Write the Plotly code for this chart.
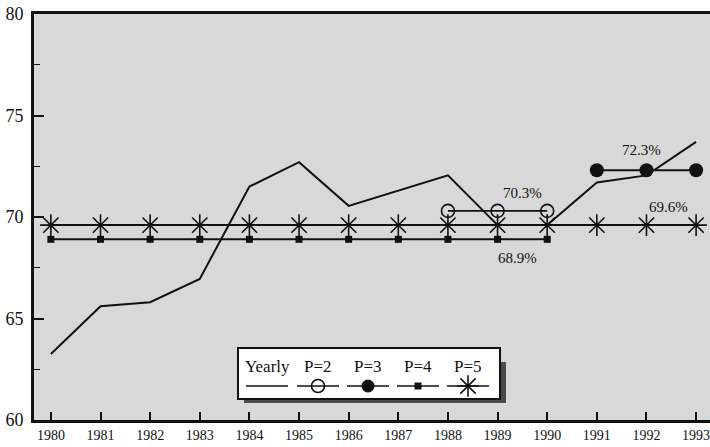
import plotly.graph_objects as go

# ---- data ----
years = [1980, 1981, 1982, 1983, 1984, 1985, 1986, 1987, 1988, 1989, 1990, 1991, 1992, 1993]
yearly = [63.25, 65.6, 65.8, 66.95, 71.5, 72.7, 70.55, 71.3, 72.05, 69.6, 69.6, 71.7, 72.05, 73.7]

p2_years = [1988, 1989, 1990]
p2_vals = [70.3, 70.3, 70.3]

p3_years = [1991, 1992, 1993]
p3_vals = [72.3, 72.3, 72.3]

p4_years = [1980, 1981, 1982, 1983, 1984, 1985, 1986, 1987, 1988, 1989, 1990]
p4_vals = [68.9, 68.9, 68.9, 68.9, 68.9, 68.9, 68.9, 68.9, 68.9, 68.9, 68.9]

p5_years = years
p5_vals = [69.6, 69.6, 69.6, 69.6, 69.6, 69.6, 69.6, 69.6, 69.6, 69.6, 69.6, 69.6, 69.6, 69.6]

labels = ["70.3%", "68.9%", "72.3%", "69.6%"]
label_x = [1989.5, 1989.4, 1991.9, 1992.45]
label_y = [71.2, 68.0, 73.3, 70.5]

legend_names = ["Yearly", "P=2", "P=3", "P=4", "P=5"]

FONT = "Liberation Serif"
BLACK = "#111111"

fig = go.Figure()

fig.add_trace(go.Scatter(x=years, y=yearly, mode="lines",
                         line=dict(color=BLACK, width=2), name="Yearly"))
fig.add_trace(go.Scatter(x=p5_years, y=p5_vals, mode="lines+markers",
                         line=dict(color=BLACK, width=2),
                         marker=dict(symbol="asterisk-open", size=18, color=BLACK,
                                     line=dict(color=BLACK, width=1.6)),
                         name="P=5"))
fig.add_trace(go.Scatter(x=p4_years, y=p4_vals, mode="lines+markers",
                         line=dict(color=BLACK, width=2),
                         marker=dict(symbol="square", size=7, color=BLACK),
                         name="P=4"))
fig.add_trace(go.Scatter(x=p2_years, y=p2_vals, mode="lines+markers",
                         line=dict(color=BLACK, width=1.6),
                         marker=dict(symbol="circle-open", size=13, color=BLACK,
                                     line=dict(color=BLACK, width=1.6)),
                         name="P=2"))
fig.add_trace(go.Scatter(x=p3_years, y=p3_vals, mode="lines+markers",
                         line=dict(color=BLACK, width=2),
                         marker=dict(symbol="circle", size=14, color=BLACK),
                         name="P=3"))

for t, xv, yv in zip(labels, label_x, label_y):
    fig.add_annotation(x=xv, y=yv, text=t, showarrow=False,
                       xanchor="center", yanchor="middle",
                       font=dict(family=FONT, size=15, color=BLACK))

# ---- custom legend (pixel overlay axes) ----
W, H = 710, 447
L, R, T, B = 34, 0, 14, 27
def px2paper_x(px):
    return (px - L) / (W - L - R)
def px2paper_y(py):
    return (H - B - py) / (H - T - B)

box = (238, 348, 500, 399)
sh = 6
fig.add_shape(type="rect", xref="paper", yref="paper", layer="below",
              x0=px2paper_x(box[0] + sh), x1=px2paper_x(box[2] + sh),
              y0=px2paper_y(box[3] + sh - 2), y1=px2paper_y(box[1] + sh + 8),
              fillcolor="#4a4a4a", line=dict(width=0))
fig.add_shape(type="rect", xref="paper", yref="paper", layer="below",
              x0=px2paper_x(box[0]), x1=px2paper_x(box[2]),
              y0=px2paper_y(box[3]), y1=px2paper_y(box[1]),
              fillcolor="white", line=dict(color=BLACK, width=2))

centers = [267, 318, 368, 418, 468]
text_y = 366
sample_y = 386
half = 21
for name, cx in zip(legend_names, centers):
    fig.add_annotation(xref="paper", yref="paper", x=px2paper_x(cx), y=px2paper_y(text_y),
                       text=name, showarrow=False, xanchor="center", yanchor="middle",
                       font=dict(family=FONT, size=17, color=BLACK))

sample_styles = [
    None,
    dict(symbol="circle-open", size=13, color=BLACK, line=dict(color=BLACK, width=1.6)),
    dict(symbol="circle", size=13, color=BLACK),
    dict(symbol="square", size=7, color=BLACK),
    dict(symbol="asterisk-open", size=18, color=BLACK, line=dict(color=BLACK, width=1.6)),
]
for cx, st in zip(centers, sample_styles):
    fig.add_trace(go.Scatter(x=[cx - half, cx + half], y=[sample_y, sample_y], mode="lines",
                             line=dict(color=BLACK, width=1.6), xaxis="x2", yaxis="y2",
                             hoverinfo="skip"))
    if st is not None:
        fig.add_trace(go.Scatter(x=[cx], y=[sample_y], mode="markers", marker=st,
                                 xaxis="x2", yaxis="y2", hoverinfo="skip"))

fig.update_layout(
    width=W, height=H,
    margin=dict(l=L, r=R, t=T, b=B),
    paper_bgcolor="white",
    plot_bgcolor="#d8d8d8",
    showlegend=False,
    font=dict(family=FONT, size=15, color=BLACK),
    xaxis=dict(range=[1979.66, 1993.28], tickvals=years, ticktext=[str(y) for y in years],
               ticks="inside", ticklen=8, tickwidth=1.5, tickcolor=BLACK,
               showline=True, linewidth=3, linecolor=BLACK, mirror=True,
               showgrid=False, zeroline=False, ticklabeloverflow="allow",
               tickfont=dict(family=FONT, size=14, color=BLACK)),
    yaxis=dict(range=[60, 80], tickvals=[60, 65, 70, 75, 80],
               ticks="inside", ticklen=10, tickwidth=1.5, tickcolor=BLACK,
               minor=dict(dtick=2.5, ticks="inside", ticklen=6, tickwidth=1, tickcolor=BLACK),
               showline=True, linewidth=3, linecolor=BLACK,
               showgrid=False, zeroline=False, ticklabelstandoff=4,
               ticklabeloverflow="allow",
               tickfont=dict(family=FONT, size=18, color=BLACK)),
    xaxis2=dict(overlaying="x", range=[L, W - R], visible=False, anchor="y2"),
    yaxis2=dict(overlaying="y", range=[H - B, T], visible=False, anchor="x2"),
)

fig.write_html("out.html", config={"displayModeBar": False},
               post_script="document.body.style.margin='0px';document.body.style.overflow='hidden';")
